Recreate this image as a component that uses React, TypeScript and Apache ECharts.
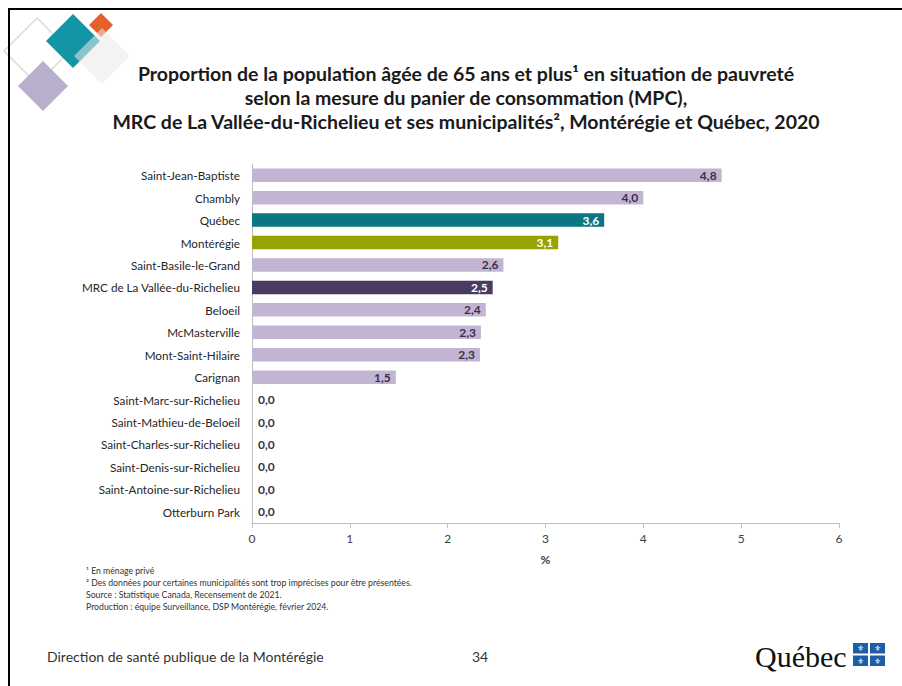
import React, { useEffect, useRef } from "react";
import * as echarts from "echarts";

const categories = [
  "Saint-Jean-Baptiste",
  "Chambly",
  "Québec",
  "Montérégie",
  "Saint-Basile-le-Grand",
  "MRC de La Vallée-du-Richelieu",
  "Beloeil",
  "McMasterville",
  "Mont-Saint-Hilaire",
  "Carignan",
  "Saint-Marc-sur-Richelieu",
  "Saint-Mathieu-de-Beloeil",
  "Saint-Charles-sur-Richelieu",
  "Saint-Denis-sur-Richelieu",
  "Saint-Antoine-sur-Richelieu",
  "Otterburn Park",
];
const values = [4.8, 4.0, 3.6, 3.13, 2.57, 2.46, 2.39, 2.34, 2.33, 1.47, 0, 0, 0, 0, 0, 0];
const xTicks = [0, 1, 2, 3, 4, 5, 6];

const LILAC = "#C2B5D3";
const TEAL = "#0B7683";
const OLIVE = "#98A302";
const DARK = "#4A3B62";
const specialColors: Record<string, string> = {
  "Québec": TEAL,
  "Montérégie": OLIVE,
  "MRC de La Vallée-du-Richelieu": DARK,
};

const titleLines = [
  "Proportion de la population âgée de 65 ans et plus¹ en situation de pauvreté",
  "selon la mesure du panier de consommation (MPC),",
  "MRC de La Vallée-du-Richelieu et ses municipalités², Montérégie et Québec, 2020",
];
const footnotes = [
  "¹ En ménage privé",
  "² Des données pour certaines municipalités sont trop imprécises pour être présentées.",
  "Source : Statistique Canada, Recensement de 2021.",
  "Production : équipe Surveillance, DSP Montérégie, février 2024.",
];
const footerText = "Direction de santé publique de la Montérégie";
const pageNumber = "34";

const FONT = "Lato";

function diamond(cx: number, cy: number, half: number, style: any, z = 1) {
  const s = half * Math.SQRT2;
  return {
    type: "rect",
    x: cx,
    y: cy,
    rotation: Math.PI / 4,
    shape: { x: -s / 2, y: -s / 2, width: s, height: s },
    style,
    z,
  };
}

export default function App() {
  const ref = useRef<HTMLDivElement>(null);
  useEffect(() => {
    document.body.style.margin = "0";
    const chart = echarts.init(ref.current!, undefined, { renderer: "svg" });
    const data = values.map((v, i) => {
      const cat = categories[i];
      const color = specialColors[cat] || LILAC;
      const white = !!specialColors[cat];
      return {
        value: v,
        itemStyle: { color },
        label: v === 0
          ? { position: "right", distance: 6, color: "#3A3048" }
          : { position: "insideRight", distance: 5, color: white ? "#FFFFFF" : "#3A3048" },
      };
    });
    const flagX = 853;
    const flagY = 643;
    const flagParts: any[] = [];
    const qw = 15, qh = 10.5;
    for (let r = 0; r < 2; r++) {
      for (let c = 0; c < 2; c++) {
        const x = flagX + c * (qw + 2);
        const y = flagY + r * (qh + 2);
        flagParts.push({
          type: "rect",
          shape: { x, y, width: qw, height: qh },
          style: { fill: "#1D5EA8" },
        });
        flagParts.push({
          type: "text",
          style: {
            x: x + qw / 2,
            y: y + qh / 2 + 0.5,
            text: "⚜",
            fill: "#FFFFFF",
            font: "8px 'DejaVu Sans'",
            align: "center",
            verticalAlign: "middle",
          },
        });
      }
    }
    chart.setOption({
      animation: false,
      backgroundColor: "#FFFFFF",
      grid: { left: 252, right: 63, top: 164, bottom: 163, containLabel: false },
      xAxis: {
        type: "value",
        min: 0,
        max: 6,
        interval: 1,
        axisLine: { show: true, lineStyle: { color: "#BFBFBF" } },
        axisTick: { show: true, length: 5, lineStyle: { color: "#BFBFBF" } },
        splitLine: { show: false },
        axisLabel: {
          margin: 9,
          color: "#404040",
          fontFamily: FONT,
          fontSize: 12,
          formatter: (v: number) => (xTicks.includes(v) ? String(v) : ""),
        },
        name: "%",
        nameLocation: "middle",
        nameGap: 30,
        nameTextStyle: { color: "#404040", fontFamily: FONT, fontSize: 12, fontWeight: "bold" },
      },
      yAxis: {
        type: "category",
        data: categories,
        inverse: true,
        axisLine: { show: true, lineStyle: { color: "#BFBFBF" } },
        axisTick: { show: false },
        axisLabel: { margin: 12, color: "#262626", fontFamily: FONT, fontSize: 11.7 },
      },
      series: [
        {
          type: "bar",
          data,
          barCategoryGap: "40%",
          label: {
            show: true,
            fontFamily: FONT,
            fontSize: 12,
            fontWeight: "bold",
            formatter: (p: any) => Number(p.value).toFixed(1).replace(".", ","),
          },
        },
      ],
      graphic: [
        { type: "line", shape: { x1: 8, y1: 9, x2: 902, y2: 9 }, style: { stroke: "#000", lineWidth: 2 }, z: 10 },
        { type: "line", shape: { x1: 9, y1: 8, x2: 9, y2: 686 }, style: { stroke: "#000", lineWidth: 2 }, z: 10 },
        diamond(37, 51, 33, { fill: "none", stroke: "#D9DED2", lineWidth: 1.5 }, 1),
        diamond(43, 86, 25, { fill: "#B8AFCC" }, 2),
        diamond(73, 41, 27, { fill: "#1495A6" }, 3),
        diamond(101, 25, 12, { fill: "#E5602A" }, 4),
        diamond(102, 56, 28, { fill: "#ECE9E8", opacity: 0.55 }, 5),
        {
          type: "text",
          style: {
            x: 466,
            y: 61,
            text: titleLines.join("\n"),
            font: `bold 19.5px ${FONT}`,
            fill: "#1A1A1A",
            align: "center",
            verticalAlign: "top",
            lineHeight: 24,
          },
        },
        {
          type: "text",
          style: {
            x: 86,
            y: 565,
            text: footnotes.join("\n"),
            font: `8.7px ${FONT}`,
            fill: "#333333",
            align: "left",
            verticalAlign: "top",
            lineHeight: 11.8,
          },
        },
        {
          type: "text",
          style: { x: 47, y: 656, text: footerText, font: `14px ${FONT}`, fill: "#333333", verticalAlign: "middle" },
        },
        {
          type: "text",
          style: { x: 480, y: 656, text: pageNumber, font: `14px ${FONT}`, fill: "#333333", align: "center", verticalAlign: "middle" },
        },
        {
          type: "text",
          style: { x: 755, y: 656, text: "Québec", font: "30px 'Liberation Serif'", fill: "#111111", verticalAlign: "middle" },
        },
        ...flagParts,
      ],
    });
    return () => chart.dispose();
  }, []);
  return <div ref={ref} style={{ width: 902, height: 686 }} />;
}
